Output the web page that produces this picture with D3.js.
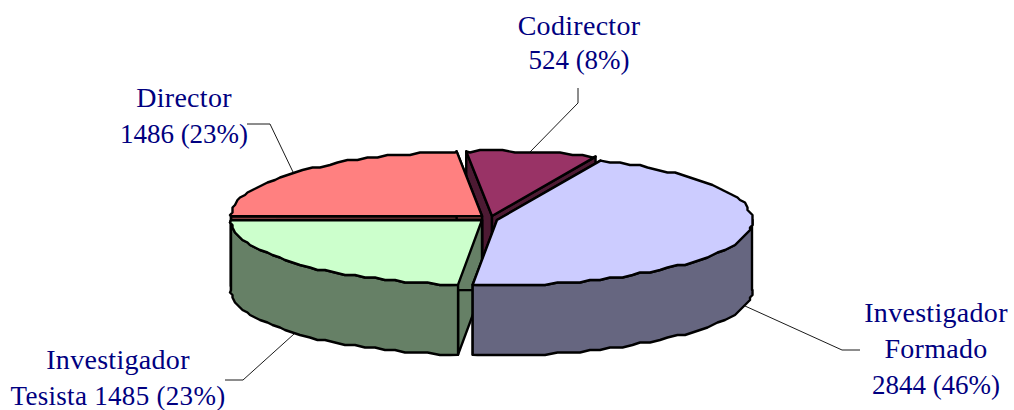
<!DOCTYPE html>
<html><head><meta charset="utf-8">
<script src="https://cdn.jsdelivr.net/npm/d3@7/dist/d3.min.js"></script>
<style>html,body{margin:0;padding:0;background:#fff}svg{display:block}</style>
</head><body><svg id="c" width="1014" height="410"></svg>
<script>
const categories = ["Codirector","Investigador Formado","Investigador Tesista","Director"];
const values = [524,2844,1485,1486];
const labelLines = [
  ["Codirector","524 (8%)"],
  ["Investigador","Formado","2844 (46%)"],
  ["Investigador","Tesista 1485 (23%)"],
  ["Director","1486 (23%)"]
];
const topColors = ["#993366","#CCCCFF","#CCFFCC","#FF8080"];
const sideColors = ["#4D1A33","#666680","#668066","#804040"];

// layout of the exploded slices, labels and leaders
const centres = [[492,216,255],[497,220,255],[482,220,251],[482,216,251]];
const ry = 65, depth = 70, grid = 2.5;
const labelPos = [[579,35],[936,322],[118,369],[184,107]];
const leaders = [
  [[578,88],[578,103],[530,152]],
  [[745,306],[842,350],[860,350]],
  [[225,380],[243,380],[294,334]],
  [[247,124],[270,124],[293,172]]
];
const paintOrder = [0,3,2,1];

const svg = d3.select("#c");
const deg = Math.PI/180;
const pie = d3.pie().sort(null).startAngle(-5.8*deg).endAngle(354.2*deg);
const arcs = pie(values);
const line = d3.line();
const snap = v => Math.round(v/grid)*grid;

// rim samples sit on a fixed angular lattice so top face and wall share the same outline
function rim(i,a0,a1){
  const [cx,cy,rx]=centres[i];
  const step=2.6*deg;
  const at=(a,s)=>{
    const x=cx+rx*Math.sin(a), y=cy-ry*Math.cos(a);
    return s?[snap(x),snap(y)]:[x,y];
  };
  const pts=[at(a0,false)];
  for(let k=Math.ceil(a0/step+0.01);k*step<a1-0.001;k++) pts.push(at(k*step,true));
  if(a1>a0) pts.push(at(a1,false));
  return pts;
}
const stroke=(sel)=>sel.attr("stroke","#000").attr("stroke-width",2.4).attr("stroke-linejoin","round");

// leaders behind the pie
svg.append("g").selectAll("path").data(leaders).join("path")
  .attr("d",d=>line(d)).attr("fill","none").attr("stroke","#000").attr("stroke-width",0.9);

const gPie = svg.append("g");
paintOrder.forEach(i=>{
  const d=arcs[i], [cx,cy]=centres[i];
  const g=gPie.append("g");
  const edge=a=>{
    const [x,y]=rim(i,a,a)[0];
    return [[cx,cy],[x,y],[x,y+depth],[cx,cy+depth]];
  };
  [d.startAngle,d.endAngle].forEach(a=>{
    g.append("path").attr("d",line(edge(a))+"Z").attr("fill",sideColors[i]).call(stroke);
  });
  const w0=Math.max(d.startAngle,90*deg), w1=Math.min(d.endAngle,270*deg);
  if(w1>w0){
    const r=rim(i,w0,w1);
    const pts=r.concat(r.slice().reverse().map(p=>[p[0],p[1]+depth]));
    g.append("path").attr("d",line(pts)+"Z").attr("fill",sideColors[i]).call(stroke);
  }
  const pts=[[cx,cy]].concat(rim(i,d.startAngle,d.endAngle));
  g.append("path").attr("d",line(pts)+"Z").attr("fill",topColors[i]).call(stroke);
});

// labels: words are set a little wider than the number lines, as in the original face
const lh=[34,36,36,36];
labelLines.forEach((ls,i)=>{
  const t=svg.append("text").attr("text-anchor","middle")
    .attr("font-family","'Liberation Serif',serif").attr("fill","#000080");
  ls.forEach((s,k)=>{
    const numeric=/^\d/.test(s);
    t.append("tspan").attr("x",labelPos[i][0]).attr("y",labelPos[i][1]+k*lh[i])
      .attr("font-size",s.includes("(")?27:28)
      .attr("letter-spacing",numeric?0:0.3)
      .text(s);
  });
});
</script></body></html>
